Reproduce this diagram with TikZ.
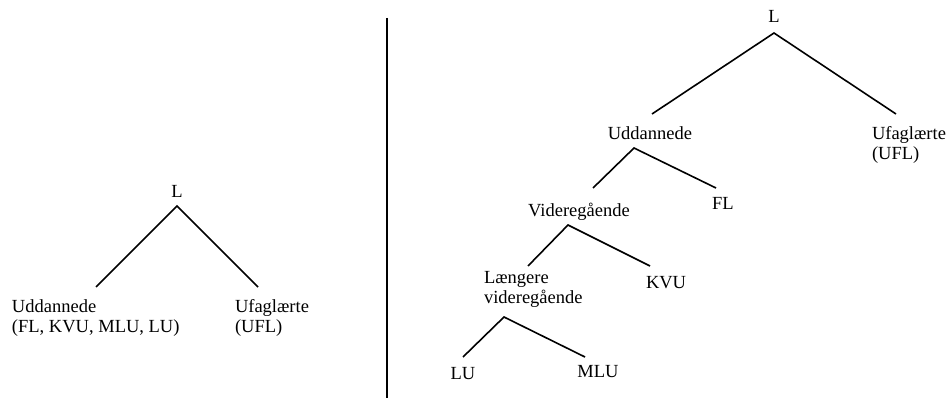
\documentclass[tikz,border=0pt]{standalone}
\usepackage{fontspec}
\setmainfont{Liberation Serif}
\begin{document}
\begin{tikzpicture}[x=1pt,y=-1pt,
  lbl/.style={inner sep=0pt,outer sep=0pt,font=\fontsize{18.5}{20}\selectfont},
  lblL/.style={lbl,anchor=base west,align=left},
  lblC/.style={lbl,anchor=base},
  edge/.style={line width=1.6pt,line cap=butt}]
\useasboundingbox (0,0) rectangle (947,398);
% ---------- left tree ----------
\node[lblC] (L1) at (177,197) {L};
\node[lblL] (U1) at (12,332) {Uddannede\\(FL, KVU, MLU, LU)};
\node[lblL] (F1) at (235,332) {Ufaglærte\\(UFL)};
\coordinate (a1) at (177,206);
\coordinate (u1) at (96,287);
\coordinate (f1) at (258,287);
\draw[edge] (u1) -- (a1) -- (f1);
% ---------- divider ----------
\coordinate (d1) at (387,18);
\coordinate (d2) at (387,398);
\draw[line width=1.6pt] (d1) -- (d2);
% ---------- right tree ----------
\node[lblC] (L2) at (774,23) {L};
\coordinate (a2) at (774,33);
\coordinate (u2) at (652,114);
\coordinate (f2) at (896,114);
\draw[edge] (u2) -- (a2) -- (f2);
\node[lblC] (U2) at (650,140) {Uddannede};
\node[lblL] (F2) at (872,160) {Ufaglærte\\(UFL)};
\coordinate (a3) at (634,148);
\coordinate (v3) at (593,188);
\coordinate (fl3) at (716,188);
\draw[edge] (v3) -- (a3) -- (fl3);
\node[lblL] (FL) at (712,209) {FL};
\node[lblC] (V) at (579,216) {Videregående};
\coordinate (a4) at (568,225);
\coordinate (l4) at (528,266);
\coordinate (k4) at (650,266);
\draw[edge] (l4) -- (a4) -- (k4);
\node[lblL] (KVU) at (646,288) {KVU};
\node[lblL] (LV) at (484,303) {Længere\\videregående};
\coordinate (a5) at (504,317);
\coordinate (lu5) at (463,357);
\coordinate (m5) at (585,357);
\draw[edge] (lu5) -- (a5) -- (m5);
\node[lblC] (LU) at (463,379) {LU};
\node[lblC] (MLU) at (598,377) {MLU};
\end{tikzpicture}
\end{document}
